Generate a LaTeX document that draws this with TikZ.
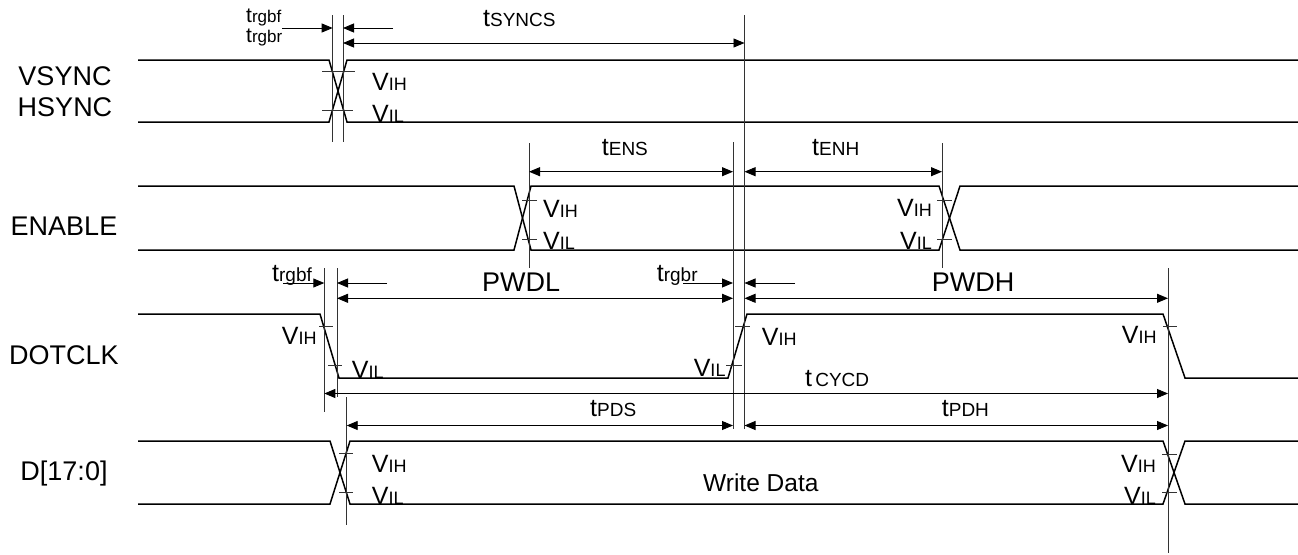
\documentclass[tikz,border=0pt]{standalone}
\usepackage{fontspec}
\setmainfont{Liberation Sans}
\usetikzlibrary{arrows.meta}
\newcommand{\biglbl}[1]{\fontsize{27}{27}\selectfont #1}
\newcommand{\tlbl}[2]{{\fontsize{25}{25}\selectfont #1}{\fontsize{19}{19}\selectfont #2}}
\newcommand{\vlbl}[2]{{\fontsize{25}{25}\selectfont #1}{\fontsize{18}{18}\selectfont #2}}
\newcommand{\slbl}[2]{{\fontsize{21}{21}\selectfont #1}{\fontsize{17}{17}\selectfont #2}}
\begin{document}
\begin{tikzpicture}[x=1pt,y=-1pt,
  sig/.style={line width=1.5pt},
  vref/.style={line width=0.9pt, black!80},
  tickln/.style={line width=0.9pt, black!80},
  dimarr/.style={line width=0.9pt, {Triangle[length=11pt,width=9pt]}-{Triangle[length=11pt,width=9pt]}},
  rarr/.style={line width=0.9pt, -{Triangle[length=11pt,width=9pt]}},
  txt/.style={inner sep=0pt}]
\useasboundingbox (0,0) rectangle (1298,554);

% signal names
\node[txt, anchor=base] (vs) at (65,85) {\biglbl{VSYNC}};
\node[txt, anchor=base] (hs) at (65,116.7) {\biglbl{HSYNC}};
\node[txt, anchor=base] (en) at (64,235.7) {\biglbl{ENABLE}};
\node[txt, anchor=base] (dc) at (64,364.3) {\biglbl{DOTCLK}};
\node[txt, anchor=base] (dd) at (64,480) {\biglbl{D[17:0]}};

% waveforms
\draw[sig] (138,60)--(329,60)--(347,122)--(1298,122);
\draw[sig] (138,122)--(329,122)--(347,60)--(1298,60);
\draw[sig] (138,186)--(514,186)--(531,250)--(939,250)--(960,186)--(1298,186);
\draw[sig] (138,250)--(514,250)--(531,186)--(939,186)--(960,250)--(1298,250);
\draw[sig] (138,314)--(320,314)--(339,378)--(728,378)--(747,314)--(1163,314)--(1185,378)--(1298,378);
\draw[sig] (138,441)--(330,441)--(350,504)--(1163,504)--(1185,441)--(1298,441);
\draw[sig] (138,504)--(330,504)--(350,441)--(1163,441)--(1185,504)--(1298,504);

% vertical reference lines
\draw[vref] (332.7,15)--(332.7,142);
\draw[vref] (343,15)--(343,142);
\draw[vref] (744.5,15)--(744.5,429);
\draw[vref] (529,143)--(529,268);
\draw[vref] (733,142)--(733,429);
\draw[vref] (942,143)--(942,268);
\draw[vref] (324.3,268)--(324.3,412);
\draw[vref] (337,268)--(337,397);
\draw[vref] (346.7,397)--(346.7,525);
\draw[vref] (1168,268)--(1168,553);

% ticks
\draw[tickln] (322,71.7)--(355,71.7);
\draw[tickln] (322,110)--(353,110);
\draw[tickln] (522,200)--(537,200);
\draw[tickln] (522,239)--(537,239);
\draw[tickln] (937,200)--(952,200);
\draw[tickln] (937,239)--(952,239);
\draw[tickln] (319,326.7)--(333,326.7);
\draw[tickln] (328,365)--(342,365);
\draw[tickln] (735,326)--(750,326);
\draw[tickln] (726,365)--(742,365);
\draw[tickln] (1163,326)--(1177,326);
\draw[tickln] (339,453.3)--(353,453.3);
\draw[tickln] (339,492.7)--(353,492.7);
\draw[tickln] (1162,454)--(1177,454);
\draw[tickln] (1162,492.3)--(1177,492.3);

% dimension arrows
\draw[rarr] (282,28)--(332.7,28);
\draw[rarr] (393,28)--(343,28);
\draw[dimarr] (343,43)--(744.5,43);
\draw[dimarr] (529,171.7)--(733,171.7);
\draw[dimarr] (744.5,171.7)--(942,171.7);
\draw[rarr] (283,283)--(324.3,283);
\draw[rarr] (387,283)--(337,283);
\draw[dimarr] (337,298.3)--(733,298.3);
\draw[rarr] (683,283)--(733,283);
\draw[rarr] (795,283)--(744.5,283);
\draw[dimarr] (744.5,298.3)--(1168,298.3);
\draw[dimarr] (324.3,393.5)--(1168,393.5);
\draw[dimarr] (346.7,425.5)--(733,425.5);
\draw[dimarr] (744.5,425.5)--(1168,425.5);

% timing labels
\node[txt, anchor=base west] (trgbfa) at (246,23) {\slbl{t}{rgbf}};
\node[txt, anchor=base west] (trgbra) at (246,42.5) {\slbl{t}{rgbr}};
\node[txt, anchor=base west] (tsyncs) at (483,27) {\tlbl{t}{SYNCS}};
\node[txt, anchor=base west] (tens) at (601.7,155) {\tlbl{t}{ENS}};
\node[txt, anchor=base west] (tenh) at (812,155) {\tlbl{t}{ENH}};
\node[txt, anchor=base west] (trgbfb) at (272,281) {\tlbl{t}{rgbf}};
\node[txt, anchor=base west] (trgbrb) at (656.7,281.7) {\tlbl{t}{rgbr}};
\node[txt, anchor=base west] (pwdl) at (482,291.7) {\biglbl{PWDL}};
\node[txt, anchor=base west] (pwdh) at (931.7,291.7) {\biglbl{PWDH}};
\node[txt, anchor=base west] (tcycd) at (805,386.7) {\tlbl{t}{\,CYCD}};
\node[txt, anchor=base west] (tpds) at (590,416.7) {\tlbl{t}{PDS}};
\node[txt, anchor=base west] (tpdh) at (941.7,416.7) {\tlbl{t}{PDH}};
\node[txt, anchor=base west] (wd) at (703,491.7) {\fontsize{24.5}{24.5}\selectfont Write Data};

% voltage labels
\node[txt, anchor=base west] (vih1) at (372,90.7) {\vlbl{V}{IH}};
\node[txt, anchor=base west] (vil1) at (372,122.7) {\vlbl{V}{IL}};
\node[txt, anchor=base west] (vih2) at (543,217.3) {\vlbl{V}{IH}};
\node[txt, anchor=base west] (vil2) at (543,249) {\vlbl{V}{IL}};
\node[txt, anchor=base east] (vih3) at (932,216) {\vlbl{V}{IH}};
\node[txt, anchor=base east] (vil3) at (932,249) {\vlbl{V}{IL}};
\node[txt, anchor=base east] (vih4) at (316.7,344) {\vlbl{V}{IH}};
\node[txt, anchor=base west] (vil4) at (351.7,378) {\vlbl{V}{IL}};
\node[txt, anchor=base east] (vil5) at (725.7,376.7) {\vlbl{V}{IL}};
\node[txt, anchor=base west] (vih5) at (761.7,345) {\vlbl{V}{IH}};
\node[txt, anchor=base east] (vih6) at (1156.7,343) {\vlbl{V}{IH}};
\node[txt, anchor=base west] (vih7) at (371.7,472.7) {\vlbl{V}{IH}};
\node[txt, anchor=base west] (vil7) at (371.7,504) {\vlbl{V}{IL}};
\node[txt, anchor=base east] (vih8) at (1156,472.7) {\vlbl{V}{IH}};
\node[txt, anchor=base east] (vil8) at (1156,504) {\vlbl{V}{IL}};
\end{tikzpicture}
\end{document}
